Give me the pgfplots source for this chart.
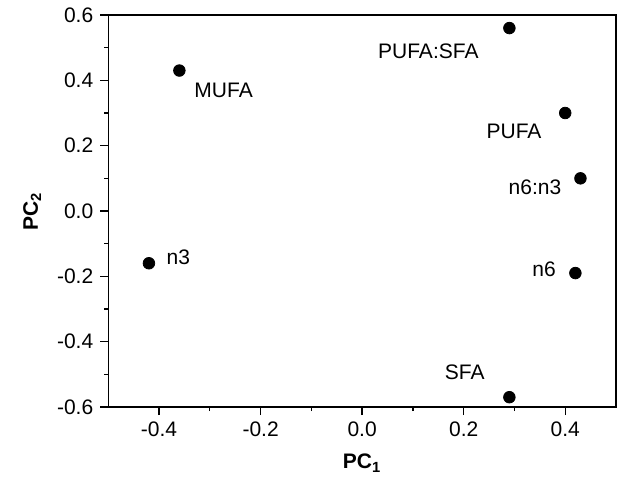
\documentclass[border=0pt]{standalone}
\usepackage{fontspec}
\setmainfont{Liberation Sans}
\usepackage{pgfplots}
\pgfplotsset{compat=1.18}

\begin{document}
\begin{tikzpicture}[font=\fontsize{10.5}{12.5}\selectfont]
\begin{axis}[
  scale only axis,
  width=253.85pt, height=196pt,
  xmin=-0.5, xmax=0.5, ymin=-0.6, ymax=0.6,
  xtick={-0.4,-0.2,0,0.2,0.4},
  ytick={-0.6,-0.4,-0.2,0,0.2,0.4,0.6},
  minor x tick num=1, minor y tick num=1,
  tick align=outside, tick pos=left,
  major tick length=4pt, minor tick length=2pt,
  every tick/.style={black, line width=0.65pt},
  axis line style={line width=0.65pt},
  ticklabel style={/pgf/number format/fixed,
    /pgf/number format/fixed zerofill,
    /pgf/number format/precision=1,
    /pgf/number format/assume math mode=true},
  xlabel={\textbf{PC\textsubscript{1}}},
  ylabel={\textbf{PC\textsubscript{2}}},
  xlabel style={at={(axis description cs:0.5,0)}, anchor=north, yshift=-20pt},
  ylabel style={at={(axis description cs:0,0.5)}, anchor=south, yshift=30pt},
]
\addplot[only marks, mark=*, mark size=2.9pt, black] table {
x y
-0.36 0.43
0.29 0.56
0.40 0.30
0.43 0.10
-0.42 -0.16
0.42 -0.19
0.29 -0.57
};
\node[anchor=west, inner sep=0pt] at (axis cs:-0.331,0.370) {MUFA};
\node[anchor=east, inner sep=0pt] at (axis cs:0.230,0.488) {PUFA:SFA};
\node[anchor=east, inner sep=0pt] at (axis cs:0.354,0.243) {PUFA};
\node[anchor=east, inner sep=0pt] at (axis cs:0.393,0.074) {n6:n3};
\node[anchor=west, inner sep=0pt] at (axis cs:-0.386,-0.143) {n3};
\node[anchor=east, inner sep=0pt] at (axis cs:0.382,-0.177) {n6};
\node[anchor=east, inner sep=0pt] at (axis cs:0.242,-0.495) {SFA};
\end{axis}
\pgfresetboundingbox
\path (-54.15pt,-34.5pt) rectangle (255.85pt,203.5pt);
\end{tikzpicture}
\end{document}
